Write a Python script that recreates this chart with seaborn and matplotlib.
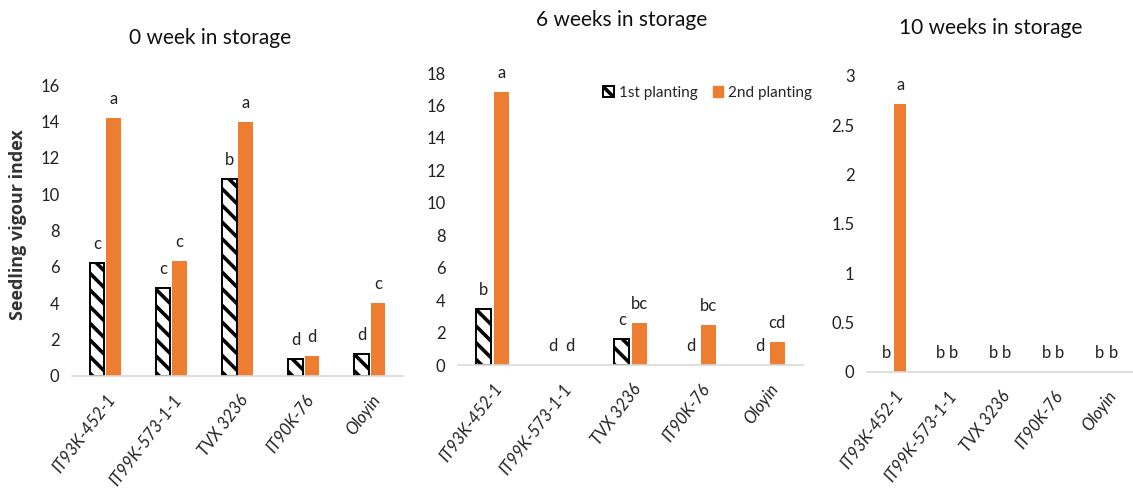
import matplotlib
matplotlib.use("Agg")
import matplotlib.pyplot as plt
import matplotlib.patches as mpatches
import matplotlib.transforms as mtransforms
from matplotlib.ticker import FuncFormatter
import seaborn as sns
import pandas as pd

# Genotypes and planting series
genotypes = ["IT93K-452-1", "IT99K-573-1-1", "TVX 3236", "IT90K-76", "Oloyin"]
plantings = ["1st planting", "2nd planting"]

# Seedling vigour index per storage period
week0_first = [6.2, 4.85, 10.85, 0.93, 1.2]
week0_second = [14.2, 6.3, 13.95, 1.1, 4.0]
week6_first = [3.45, 0.0, 1.6, 0.0, 0.0]
week6_second = [16.8, 0.0, 2.6, 2.45, 1.4]
week10_first = [0.0, 0.0, 0.0, 0.0, 0.0]
week10_second = [2.72, 0.0, 0.0, 0.0, 0.0]

# Mean separation letters
week0_first_letters = ["c", "c", "b", "d", "d"]
week0_second_letters = ["a", "c", "a", "d", "c"]
week6_first_letters = ["b", "d", "c", "d", "d"]
week6_second_letters = ["a", "d", "bc", "bc", "cd"]
week10_first_letters = ["b", "b", "b", "b", "b"]
week10_second_letters = ["a", "b", "b", "b", "b"]

titles = ["0 week in storage", "6 weeks in storage", "10 weeks in storage"]
y_limits = [16, 18, 3]
y_steps = [2, 2, 0.5]

ORANGE = "#ED7D31"
FONT = ["Lato", "DejaVu Sans"]

sns.set_theme(style="white")
plt.rcParams["font.family"] = FONT
plt.rcParams["hatch.linewidth"] = 2.6
plt.rcParams["hatch.color"] = "black"

fig = plt.figure(figsize=(11.33, 4.93), dpi=100)

# axes rectangles in figure pixels: left, bottom(px from top), right, top(px from top)
boxes = [(72, 376, 403, 85), (458, 365, 803, 73), (867, 372, 1133, 76)]
W, H = 1133, 493

panels = [
    (week0_first, week0_second, week0_first_letters, week0_second_letters),
    (week6_first, week6_second, week6_first_letters, week6_second_letters),
    (week10_first, week10_second, week10_first_letters, week10_second_letters),
]

title_pos = [(210, 38), (622, 20), (991, 28)]

# nudge rotated category labels slightly to the right
label_shift = mtransforms.ScaledTranslation(7 / 100, 0, fig.dpi_scale_trans)

axes = []
for i, ((first, second, l1, l2), box) in enumerate(zip(panels, boxes)):
    x0, yb, x1, yt = box
    ax = fig.add_axes([x0 / W, 1 - yb / H, (x1 - x0) / W, (yb - yt) / H])
    axes.append(ax)
    df = pd.DataFrame({
        "genotype": genotypes * 2,
        "planting": [plantings[0]] * 5 + [plantings[1]] * 5,
        "value": list(first) + list(second),
        "letter": list(l1) + list(l2),
    })
    sns.barplot(data=df, x="genotype", y="value", hue="planting",
                order=genotypes, hue_order=plantings,
                palette=["white", ORANGE], saturation=1, width=0.5, gap=0.12,
                legend=False, ax=ax, errorbar=None)

    bars = ax.patches[:10]
    for j, bar in enumerate(bars):
        if j < 5:
            bar.set_hatch("\\\\")
            bar.set_edgecolor("black")
            bar.set_linewidth(1.4)
        else:
            bar.set_edgecolor(ORANGE)
            bar.set_linewidth(0)
        if bar.get_height() == 0:
            bar.set_visible(False)
        cx = bar.get_x() + bar.get_width() / 2
        ax.annotate(df["letter"][j], (cx, bar.get_height()),
                    xytext=(0, 8), textcoords="offset points",
                    ha="center", va="bottom", fontsize=12,
                    color="#222222", family=FONT)

    ax.set_ylim(0, y_limits[i])
    ax.set_xlim(-0.5, 4.5)
    step = y_steps[i]
    ticks = [k * step for k in range(int(round(y_limits[i] / step)) + 1)]
    ax.set_yticks(ticks)
    ax.yaxis.set_major_formatter(FuncFormatter(lambda v, p: f"{v:g}"))
    ax.tick_params(axis="y", length=0, pad=9, labelsize=12, labelcolor="#222222")
    ax.tick_params(axis="x", length=0, pad=15)
    ax.set_xticks(range(5))
    ax.set_xticklabels(genotypes, rotation=53, ha="right", va="center",
                       rotation_mode="anchor", fontsize=12,
                       style="italic", color="#222222")
    for lab in ax.get_xticklabels():
        lab.set_transform(lab.get_transform() + label_shift)
    ax.set_xlabel("")
    ax.set_ylabel("")
    for side in ["left", "right", "top"]:
        ax.spines[side].set_visible(False)
    ax.spines["bottom"].set_color("#D9D9D9")
    ax.spines["bottom"].set_linewidth(1.2)
    ax.set_facecolor("none")

    tx, ty = title_pos[i]
    fig.text(tx / W, 1 - ty / H, titles[i], ha="center", va="center",
             fontsize=15, color="#111111", family=FONT)

fig.text(18 / W, 1 - 225 / H, "Seedling vigour index", rotation=90,
         ha="center", va="center", fontsize=13, fontweight="bold",
         color="#333333", family=["Open Sans", "DejaVu Sans"])

# legend in the middle panel
h1 = mpatches.Patch(facecolor="white", edgecolor="black", hatch="\\\\",
                    linewidth=1.4, label=plantings[0])
h2 = mpatches.Patch(facecolor=ORANGE, edgecolor=ORANGE, label=plantings[1])
axes[1].legend(handles=[h1, h2], loc="center right", ncol=2,
               bbox_to_anchor=(818 / W, 1 - 93 / H),
               bbox_transform=fig.transFigure, frameon=False,
               fontsize=11, handlelength=0.7, handleheight=0.7,
               handletextpad=0.3, columnspacing=1.0, borderaxespad=0)

fig.savefig("out.png", dpi=100)
